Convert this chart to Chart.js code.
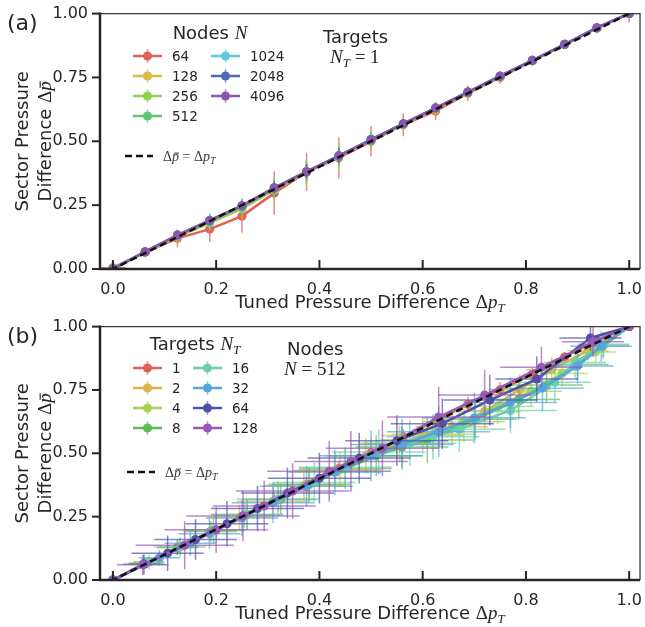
<!DOCTYPE html>
<html>
<head>
<meta charset="utf-8">
<script src="https://cdn.jsdelivr.net/npm/chart.js@4.4.0/dist/chart.umd.min.js"></script>
<style>
  html, body { margin:0; padding:0; background:#fff; }
  #wrap { position:relative; width:645px; height:627px; }
  canvas { position:absolute; left:0; }
  #ca { top:0; }
  #cb { top:313px; }
</style>
</head>
<body>
<div id="wrap">
  <canvas id="ca" width="645" height="313"></canvas>
  <canvas id="cb" width="645" height="314"></canvas>
</div>
<script>
/* ---- ticks ---- */
const xTicks = [0, 0.2, 0.4, 0.6, 0.8, 1.0];
const yTicks = [0, 0.25, 0.5, 0.75, 1.0];

/* ---- panel (a) : N_T = 1, nodes N ---- */
const nodesA  = ['64', '128', '256', '512', '1024', '2048', '4096'];
const colorsA = ['#e0605a', '#dcbb4a', '#8fd24e', '#5fc46f', '#5ec9d9', '#4f68b8', '#8b57ae'];
const xA = [0, .0625, .125, .1875, .25, .3125, .375, .4375, .5, .5625, .625, .6875, .75, .8125, .875, .9375, 1];

const yA64   = [.005, .065, .12, .156, .207, .297, .38, .435, .5, .565, .618, .688, .75, .815, .88, .943, 1];
const yA128  = [.004, .065, .127, .18, .235, .31, .378, .44, .505, .567, .625, .69, .752, .815, .878, .942, 1];
const yA256  = [.003, .066, .128, .183, .24, .312, .38, .44, .505, .567, .628, .692, .753, .816, .879, .943, 1];
const yA512  = [.002, .066, .13, .186, .243, .315, .38, .442, .506, .568, .629, .692, .754, .816, .879, .944, 1];
const yA1024 = [.001, .067, .131, .188, .246, .316, .381, .443, .507, .568, .63, .693, .755, .817, .88, .944, 1];
const yA2048 = [0, .068, .133, .19, .248, .318, .381, .443, .507, .569, .63, .693, .755, .817, .88, .945, 1];
const yA4096 = [0, .068, .133, .19, .248, .318, .381, .443, .507, .569, .631, .693, .756, .817, .88, .945, 1];

const eA64   = [.02, .02, .035, .05, .065, .085, .075, .08, .06, .045, .035, .03, .025, .02, .015, .015, .035];
const eA128  = [.015, .015, .025, .03, .04, .05, .05, .055, .04, .03, .025, .02, .02, .015, .015, .02, .01];
const eA256  = [.01, .015, .02, .025, .035, .045, .045, .05, .035, .025, .02, .02, .015, .015, .012, .015, .01];
const eA512  = [.01, .012, .02, .025, .03, .04, .04, .04, .03, .02, .018, .015, .012, .012, .01, .01, .008];
const eA1024 = [.008, .012, .018, .03, .028, .03, .035, .035, .025, .018, .015, .015, .01, .012, .008, .008, .006];
const eA2048 = [.006, .01, .015, .02, .02, .025, .03, .03, .02, .015, .012, .01, .01, .008, .008, .006, .005];
const eA4096 = [.005, .01, .012, .015, .018, .02, .025, .025, .018, .012, .01, .01, .008, .008, .006, .005, .004];
const exA64  = [.025, 0, 0, 0, 0, 0, 0, 0, 0, 0, 0, 0, 0, 0, 0, 0, 0];

/* ---- panel (b) : N = 512, targets N_T ---- */
const targetsB = ['1', '2', '4', '8', '16', '32', '64', '128'];
const colorsB  = ['#e0605a', '#dcb24a', '#a5d35a', '#5cba58', '#6ccfb0', '#55a6dc', '#5050a8', '#9a58b8'];

const xB1   = [0, .0625, .125, .1875, .25, .3125, .375, .4375, .5, .5625, .625, .6875, .75, .8125, .875, .9375, 1];
const yB1   = [0, .064, .126, .19, .252, .314, .377, .44, .502, .565, .628, .693, .751, .812, .88, .946, 1];
const exB1  = [0, 0, 0, 0, 0, 0, 0, 0, 0, 0, 0, 0, 0, 0, 0, 0, 0];
const eyB1  = [0, .01, .015, .02, .02, .025, .025, .03, .03, .03, .03, .03, .03, .025, .02, .015, 0];

const xB2   = [0, .07, .125, .19, .245, .31, .37, .43, .49, .555, .6, .657, .72, .788, .85, .92, 1];
const yB2   = [0, .072, .128, .192, .247, .31, .372, .432, .49, .54, .57, .605, .665, .752, .83, .905, 1];
const exB2  = [0, .03, .04, .05, .06, .07, .08, .08, .08, .08, .08, .07, .07, .06, .05, .04, 0];
const eyB2  = [0, .02, .03, .04, .05, .06, .06, .07, .07, .07, .07, .07, .07, .06, .05, .04, 0];

const xB4   = [0, .065, .13, .19, .255, .32, .38, .44, .5, .56, .62, .68, .745, .81, .87, .935, 1];
const yB4   = [0, .068, .132, .19, .255, .318, .378, .435, .49, .535, .575, .625, .685, .745, .815, .9, 1];
const exB4  = [0, .03, .04, .05, .06, .07, .07, .08, .08, .08, .08, .08, .07, .06, .05, .04, 0];
const eyB4  = [0, .02, .03, .04, .05, .05, .06, .07, .07, .07, .07, .08, .07, .06, .05, .04, 0];

const xB8   = [0, .06, .125, .195, .26, .325, .38, .45, .51, .56, .609, .702, .786, .84, .9, .95, 1];
const yB8   = [0, .066, .128, .195, .258, .318, .377, .44, .49, .525, .552, .634, .712, .77, .85, .925, 1];
const exB8  = [0, .03, .04, .06, .07, .07, .08, .09, .09, .09, .09, .08, .08, .07, .06, .05, 0];
const eyB8  = [0, .02, .03, .05, .06, .06, .07, .08, .08, .08, .09, .08, .08, .07, .06, .05, 0];

const xB16  = [0, .07, .13, .2, .26, .32, .39, .45, .515, .575, .62, .671, .77, .856, .895, .95, 1];
const yB16  = [0, .07, .13, .198, .258, .32, .385, .445, .505, .54, .565, .595, .669, .78, .858, .93, 1];
const exB16 = [0, .03, .05, .06, .07, .08, .08, .09, .09, .09, .09, .09, .09, .07, .06, .05, 0];
const eyB16 = [0, .03, .04, .05, .06, .07, .08, .08, .09, .09, .09, .09, .09, .08, .06, .05, 0];

const xB32  = [0, .09, .15, .187, .25, .31, .375, .43, .5, .56, .631, .7, .77, .832, .9, .946, 1];
const yB32  = [0, .088, .145, .183, .245, .305, .37, .425, .49, .535, .585, .64, .7, .757, .845, .922, 1];
const exB32 = [0, .04, .05, .06, .07, .08, .09, .09, .1, .1, .1, .1, .09, .08, .07, .06, 0];
const eyB32 = [0, .03, .05, .06, .07, .08, .08, .09, .1, .1, .1, .1, .1, .09, .07, .06, 0];

const xB64  = [0, .06, .106, .16, .221, .28, .338, .4, .477, .55, .638, .73, .821, .925, 1];
const yB64  = [0, .062, .106, .16, .222, .282, .343, .402, .481, .55, .617, .71, .793, .955, 1];
const exB64 = [0, .04, .07, .08, .08, .09, .09, .1, .1, .1, .1, .09, .08, .06, 0];
const eyB64 = [0, .04, .07, .08, .09, .09, .1, .1, .1, .1, .1, .1, .09, .05, 0];

const xB128  = [0, .058, .139, .2, .252, .293, .348, .419, .461, .522, .631, .72, .83, .93, 1];
const yB128  = [0, .06, .137, .198, .253, .292, .351, .429, .468, .52, .643, .73, .84, .94, 1];
const exB128 = [0, .05, .095, .1, .11, .1, .11, .12, .11, .11, .1, .09, .08, .06, 0];
const eyB128 = [0, .04, .095, .09, .1, .1, .11, .12, .12, .11, .12, .1, .08, .06, 0];

/* ---- styles ---- */
const SANS  = '"DejaVu Sans", sans-serif';
const SERIF = '"Liberation Serif", "DejaVu Serif", serif';
const INK   = '#262626';

/* texte mixte : [texte, police, dy, barre] */
function runs(ctx, parts, x, y, align) {
  let w = 0;
  parts.forEach(p => { ctx.font = p[1]; w += ctx.measureText(p[0]).width; });
  let cx = align === 'center' ? x - w / 2 : x;
  parts.forEach(p => {
    ctx.font = p[1];
    const pw = ctx.measureText(p[0]).width;
    ctx.fillText(p[0], cx, y + (p[2] || 0));
    if (p[3]) {
      const size = parseFloat(p[1].match(/([\d.]+)px/)[1]);
      ctx.fillRect(cx + pw * 0.3, y - size * 0.6, pw * 0.7, Math.max(1, size * 0.06));
    }
    cx += pw;
  });
}

const mk = (xs, ys, ex, ey, col, order, alpha) => ({
  data: xs.map((x, i) => ({ x, y: ys[i] })),
  errX: ex, errY: ey, errAlpha: alpha,
  showLine: true, borderColor: col, backgroundColor: col,
  borderWidth: 2.5, pointRadius: 4.5, pointBorderWidth: 0,
  pointHoverRadius: 4.5, order
});

const dashed = () => ({
  data: [{ x: -0.1, y: -0.1 }, { x: 1.1, y: 1.1 }],
  showLine: true, borderColor: '#111', borderDash: [7, 4], borderWidth: 2.5,
  pointRadius: 0, order: 0
});

/* ---- barres d'erreur ---- */
const errPlugin = {
  id: 'err',
  beforeDatasetDraw(chart, args) {
    const ds = chart.data.datasets[args.index];
    if (!ds.errX && !ds.errY) return;
    const { ctx, chartArea: a, scales: { x, y } } = chart;
    ctx.save();
    ctx.beginPath(); ctx.rect(a.left, a.top, a.width, a.height); ctx.clip();
    ctx.strokeStyle = ds.borderColor; ctx.globalAlpha = ds.errAlpha; ctx.lineWidth = 1.5;
    ds.data.forEach((p, i) => {
      const px = x.getPixelForValue(p.x), py = y.getPixelForValue(p.y);
      const ey = ds.errY ? ds.errY[i] : 0, ex = ds.errX ? ds.errX[i] : 0;
      ctx.beginPath();
      if (ey) { ctx.moveTo(px, y.getPixelForValue(p.y - ey)); ctx.lineTo(px, y.getPixelForValue(p.y + ey)); }
      if (ex) { ctx.moveTo(x.getPixelForValue(p.x - ex), py); ctx.lineTo(x.getPixelForValue(p.x + ex), py); }
      ctx.stroke();
    });
    ctx.restore();
  }
};

/* ---- axes, étiquettes, légende ---- */
function decoPlugin(cfg) {
  return {
    id: 'deco',
    afterDraw(chart) {
      const { ctx, chartArea: a, scales: { x, y } } = chart;
      ctx.save();
      // cadres
      ctx.lineWidth = 1.3; ctx.strokeStyle = '#3a3a3a';
      ctx.beginPath(); ctx.moveTo(a.left, a.top); ctx.lineTo(a.right, a.top); ctx.lineTo(a.right, a.bottom); ctx.stroke();
      ctx.lineWidth = 2.5; ctx.strokeStyle = INK;
      ctx.beginPath(); ctx.moveTo(a.left, a.top - 1); ctx.lineTo(a.left, a.bottom); ctx.lineTo(a.right, a.bottom); ctx.stroke();
      ctx.lineWidth = 2;
      yTicks.forEach(v => { const p = y.getPixelForValue(v); ctx.beginPath(); ctx.moveTo(a.left - 8, p); ctx.lineTo(a.left, p); ctx.stroke(); });
      xTicks.forEach(v => { const p = x.getPixelForValue(v); ctx.beginPath(); ctx.moveTo(p, a.bottom); ctx.lineTo(p, a.bottom - 9); ctx.stroke(); });

      ctx.fillStyle = INK; ctx.textBaseline = 'alphabetic'; ctx.textAlign = 'left';
      // titre x
      runs(ctx, [['Tuned Pressure Difference ', '18px ' + SANS], ['Δ', '19px ' + SERIF], ['p', 'italic 19px ' + SERIF], ['T', 'italic 13px ' + SERIF, 4]],
           (a.left + a.right) / 2, a.bottom + 39, 'center');
      // titre y
      const cy = (a.top + a.bottom) / 2;
      ctx.save(); ctx.translate(28, cy); ctx.rotate(-Math.PI / 2);
      runs(ctx, [['Sector Pressure', '18px ' + SANS]], 0, 0, 'center');
      ctx.restore();
      ctx.save(); ctx.translate(51, cy); ctx.rotate(-Math.PI / 2);
      runs(ctx, [['Difference ', '18px ' + SANS], ['Δ', '19px ' + SERIF], ['p', 'italic 19px ' + SERIF, 0, true]], 0, 0, 'center');
      ctx.restore();
      // (a) / (b)
      runs(ctx, [[cfg.tag, '22px ' + SANS]], 7, 30);
      // annotation
      runs(ctx, [[cfg.noteTitle, '18px ' + SANS]], cfg.noteX, cfg.noteY);
      runs(ctx, cfg.noteMath, cfg.noteMX, cfg.noteY + 20);
      // légende
      runs(ctx, cfg.legTitle, cfg.legCX, cfg.legTY, 'center');
      cfg.labels.forEach((lab, i) => {
        const col = i < cfg.perCol ? 0 : 1, row = i % cfg.perCol;
        const x0 = cfg.colX[col], yy = cfg.rowY + row * 20;
        const c = cfg.colors[i];
        ctx.strokeStyle = c; ctx.fillStyle = c;
        ctx.globalAlpha = 0.6; ctx.lineWidth = 1.5;
        ctx.beginPath(); ctx.moveTo(x0 + 14.5, yy - 7); ctx.lineTo(x0 + 14.5, yy + 7); ctx.stroke();
        ctx.globalAlpha = 1; ctx.lineWidth = 2.5;
        ctx.beginPath(); ctx.moveTo(x0, yy); ctx.lineTo(x0 + 29, yy); ctx.stroke();
        ctx.beginPath(); ctx.arc(x0 + 14.5, yy, 4.5, 0, Math.PI * 2); ctx.fill();
        ctx.fillStyle = INK;
        runs(ctx, [[lab, '13.5px ' + SANS]], x0 + 39, yy + 5);
      });
      // y = x
      ctx.strokeStyle = '#111'; ctx.lineWidth = 2.5; ctx.setLineDash([7, 4]);
      ctx.beginPath(); ctx.moveTo(cfg.dashX, cfg.dashY); ctx.lineTo(cfg.dashX + 28, cfg.dashY); ctx.stroke();
      ctx.setLineDash([]);
      ctx.fillStyle = '#3a3a3a';
      runs(ctx, [['Δ', '14px ' + SERIF], ['p', 'italic 14px ' + SERIF, 0, true], [' = ', '14px ' + SERIF], ['Δ', '14px ' + SERIF], ['p', 'italic 14px ' + SERIF], ['T', 'italic 10px ' + SERIF, 3]],
           cfg.dashX + 38, cfg.dashY + 5);
      ctx.restore();
    }
  };
}

function makeChart(id, datasets, padTop, xH, cfg) {
  return new Chart(document.getElementById(id), {
    type: 'scatter',
    data: { datasets },
    options: {
      responsive: false, animation: false, events: [],
      layout: { padding: { top: padTop, right: 3, left: 0, bottom: 0 } },
      plugins: { legend: { display: false }, tooltip: { enabled: false } },
      scales: {
        x: {
          type: 'linear', min: -0.025, max: 1.021,
          afterBuildTicks: s => { s.ticks = xTicks.map(v => ({ value: v })); },
          afterFit: s => { s.height = xH; },
          grid: { display: false }, border: { display: false },
          ticks: { padding: 3, color: INK, autoSkip: false, maxRotation: 0,
                   font: { family: SANS, size: 16 }, callback: v => v.toFixed(1) }
        },
        y: {
          type: 'linear', min: 0, max: 1,
          afterBuildTicks: s => { s.ticks = yTicks.map(v => ({ value: v })); },
          afterFit: s => { s.width = 100; },
          grid: { display: false }, border: { display: false },
          ticks: { padding: 4, color: INK, font: { family: SANS, size: 16 }, callback: v => v.toFixed(2) }
        }
      }
    },
    plugins: [errPlugin, decoPlugin(cfg)]
  });
}

/* ---- panneau (a) ---- */
const yAll = [yA64, yA128, yA256, yA512, yA1024, yA2048, yA4096];
const eAll = [eA64, eA128, eA256, eA512, eA1024, eA2048, eA4096];
const dsA = [dashed()];
yAll.forEach((ys, i) => dsA.push(mk(xA, ys, i === 0 ? exA64 : null, eAll[i], colorsA[i], 10 - i, 0.75)));

makeChart('ca', dsA, 13, 44, {
  tag: '(a)',
  noteTitle: 'Targets', noteX: 323, noteY: 43,
  noteMath: [['N', 'italic 19px ' + SERIF], ['T', 'italic 13px ' + SERIF, 4], [' = 1', '19px ' + SERIF]], noteMX: 330,
  legTitle: [['Nodes ', '18px ' + SANS], ['N', 'italic 19px ' + SERIF]], legCX: 210, legTY: 39,
  labels: nodesA, colors: colorsA, perCol: 4, colX: [133, 211], rowY: 56,
  dashX: 125, dashY: 156
});

/* ---- panneau (b) ---- */
const xBAll  = [xB1, xB2, xB4, xB8, xB16, xB32, xB64, xB128];
const yBAll  = [yB1, yB2, yB4, yB8, yB16, yB32, yB64, yB128];
const exBAll = [exB1, exB2, exB4, exB8, exB16, exB32, exB64, exB128];
const eyBAll = [eyB1, eyB2, eyB4, eyB8, eyB16, eyB32, eyB64, eyB128];
const dsB = [dashed()];
xBAll.forEach((xs, i) => dsB.push(mk(xs, yBAll[i], exBAll[i], eyBAll[i], colorsB[i], 10 - i, 0.7)));

makeChart('cb', dsB, 11, 47, {
  tag: '(b)',
  noteTitle: 'Nodes', noteX: 287, noteY: 42,
  noteMath: [['N', 'italic 19px ' + SERIF], [' = 512', '19px ' + SERIF]], noteMX: 284,
  legTitle: [['Targets ', '18px ' + SANS], ['N', 'italic 19px ' + SERIF], ['T', 'italic 13px ' + SERIF, 4]], legCX: 195, legTY: 37,
  labels: targetsB, colors: colorsB, perCol: 4, colX: [133, 193], rowY: 55,
  dashX: 127, dashY: 159
});
</script>
</body>
</html>
